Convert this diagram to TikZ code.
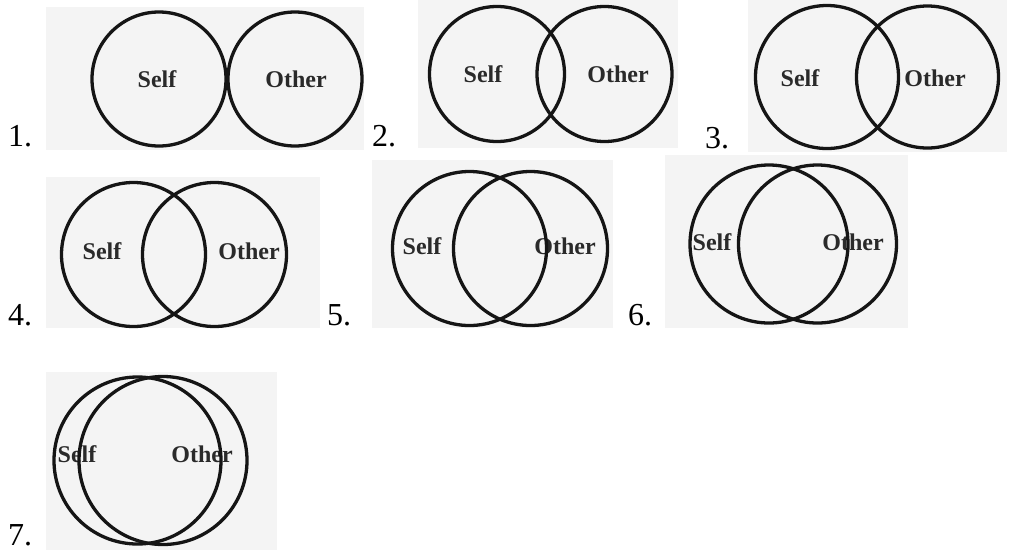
\documentclass[tikz,border=0pt]{standalone}
\usepackage{fontspec}
\setmainfont{Liberation Serif}
\definecolor{panelbg}{HTML}{F4F4F4}
\definecolor{ink}{HTML}{151515}
\definecolor{txt}{HTML}{2A2A2A}
\tikzset{
  panel/.style={fill=panelbg, draw=none},
  ring/.style={draw=ink, line width=3.3pt},
  word/.style={text=txt, font=\fontsize{24}{27}\selectfont\bfseries, inner sep=0pt},
  numlabel/.style={anchor=base west, inner sep=0pt, font=\fontsize{32}{36}\selectfont}
}
\begin{document}
\begin{tikzpicture}[x=1pt,y=-1pt]
\useasboundingbox[fill=white] (0,0) rectangle (1011,550);
% panels
\fill[panel] (46,7) rectangle (364,150);
\fill[panel] (418,0) rectangle (678,148);
\fill[panel] (748,0) rectangle (1007,152);
\fill[panel] (46,177) rectangle (320,328);
\fill[panel] (372,160) rectangle (613,328);
\fill[panel] (665,155) rectangle (908,328);
\fill[panel] (46,372) rectangle (277,550);
% labels
\node[numlabel] (n1) at (8,146) {1.};
\node[numlabel] (n2) at (372,146) {2.};
\node[numlabel] (n3) at (705,148) {3.};
\node[numlabel] (n4) at (8,325) {4.};
\node[numlabel] (n5) at (327,325) {5.};
\node[numlabel] (n6) at (628,325) {6.};
\node[numlabel] (n7) at (8,545) {7.};
% texts
\node[word] (s1) at (157,79) {Self};
\node[word] (o1) at (296,79) {Other};
\node[word] (s2) at (483,74) {Self};
\node[word] (o2) at (618,74) {Other};
\node[word] (s3) at (800,78) {Self};
\node[word] (o3) at (935,78) {Other};
\node[word] (s4) at (102,251) {Self};
\node[word] (o4) at (249,251) {Other};
\node[word] (s5) at (422,246) {Self};
\node[word] (o5) at (565,246) {Other};
\node[word] (s6) at (712,242) {Self};
\node[word] (o6) at (853,242) {Other};
\node[word] (s7) at (77,454) {Self};
\node[word] (o7) at (202,454) {Other};
% circles
\draw[ring] (159,79) circle (67);
\draw[ring] (295,79) circle (67);
\draw[ring] (497,74) circle (67.5);
\draw[ring] (604.5,74) circle (67.5);
\draw[ring] (827,77) circle (71.5);
\draw[ring] (927.5,77) circle (71);
\draw[ring] (133.5,254.5) circle (72);
\draw[ring] (214.5,254.5) circle (72);
\draw[ring] (469.5,248.5) circle (77);
\draw[ring] (530.5,248.5) circle (77);
\draw[ring] (769,244) circle (79);
\draw[ring] (817.5,244) circle (79);
\draw[ring] (137.5,460.5) circle (83.5);
\draw[ring] (163,460.5) circle (84);
\end{tikzpicture}
\end{document}
